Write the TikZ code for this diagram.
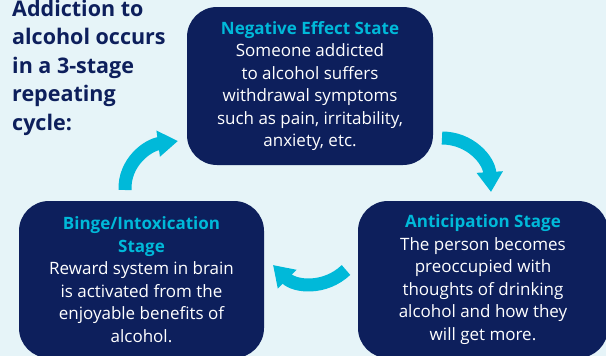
\documentclass[tikz,border=0pt]{standalone}
\usepackage{fontspec}
\setmainfont{Open Sans}
\usetikzlibrary{arrows.meta}
\definecolor{bgblue}{HTML}{E6F4F8}
\definecolor{navy}{HTML}{0D1F5C}
\definecolor{cyanar}{HTML}{00B9D9}
\begin{document}
\begin{tikzpicture}[x=1pt,y=-1pt,
  stagebox/.style={fill=navy, rounded corners=30pt, inner sep=0pt, align=center,
    text=white, font=\fontsize{17}{22.5}\selectfont},
  cyclearrow/.style={draw=cyanar, line width=13pt, -{Triangle[width=25pt,length=20pt]}},
  ]
\fill[bgblue] (0,0) rectangle (606,356);
\useasboundingbox (0,0) rectangle (606,356);
\clip (0,0) rectangle (606,356);
\node[anchor=north west, inner sep=0pt, align=left, text=navy,
  font=\fontsize{21.5}{28.6}\selectfont\bfseries] (title) at (12,-0.5)
  {Addiction to\\alcohol occurs\\in a 3-stage\\repeating\\cycle:};
\node[stagebox, minimum width=246pt, minimum height=158pt] (neg) at (310,86)
  {\textcolor{cyanar}{\bfseries Negative Effect State}\\Someone addicted\\to alcohol suffers\\withdrawal symptoms\\such as pain, irritability,\\anxiety, etc.};
\node[stagebox, minimum width=245pt, minimum height=157pt] (binge) at (141.5,279.5)
  {\textcolor{cyanar}{\bfseries Binge/Intoxication}\\\textcolor{cyanar}{\bfseries Stage}\\Reward system in brain\\is activated from the\\enjoyable benefits of\\alcohol.};
\node[stagebox, minimum width=250pt, minimum height=157pt] (antic) at (483,279.5)
  {\textcolor{cyanar}{\bfseries Anticipation Stage}\\The person becomes\\preoccupied with\\thoughts of drinking\\alcohol and how they\\will get more.};
\coordinate (a1s) at (125,190);
\coordinate (a1e) at (178,141);
\coordinate (a2s) at (442,138);
\coordinate (a2e) at (491,192);
\coordinate (a3s) at (346,270);
\coordinate (a3e) at (273,265);
\draw[cyclearrow] (a1s) .. controls (124,162) and (148,145) .. (a1e);
\draw[cyclearrow] (a2s) .. controls (470,138) and (489,160) .. (a2e);
\draw[cyclearrow] (a3s) .. controls (325,290) and (295,287) .. (a3e);
\end{tikzpicture}
\end{document}
